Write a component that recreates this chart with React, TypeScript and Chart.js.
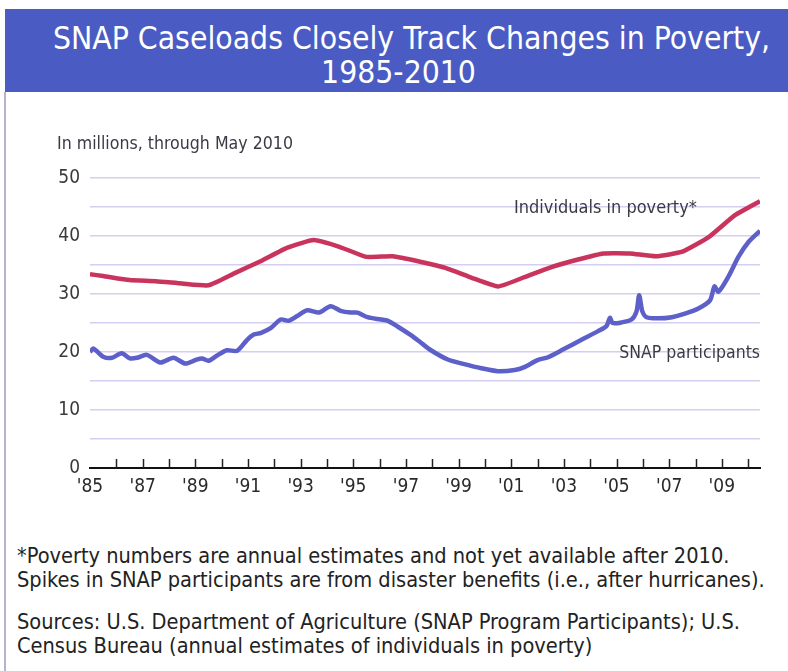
import React, { useEffect, useRef } from "react";
import { Chart, registerables } from "chart.js";

Chart.register(...registerables);

// ---------- data ----------
const povertyYears = [
  1985.0, 1985.5, 1986.5, 1987.5, 1988.5, 1989.5, 1990.5, 1991.5, 1992.5, 1993.5,
  1994.5, 1995.5, 1996.5, 1997.5, 1998.5, 1999.5, 2000.5, 2001.5, 2002.5, 2003.5,
  2004.5, 2005.5, 2006.5, 2007.5, 2008.5, 2009.5, 2010.45,
];
const povertyValues = [
  33.4, 33.1, 32.4, 32.2, 31.8, 31.5, 33.6, 35.7, 38.0, 39.3,
  38.1, 36.4, 36.5, 35.6, 34.5, 32.8, 31.3, 32.9, 34.6, 35.9,
  37.0, 37.0, 36.5, 37.3, 39.8, 43.6, 46.0,
];

const snapYears = [
  1985.0, 1985.13, 1985.5, 1985.83, 1986.2, 1986.52, 1986.78, 1987.16, 1987.67, 1988.17,
  1988.62, 1989.0, 1989.25, 1989.5, 1989.83, 1990.2, 1990.59, 1990.97, 1991.22, 1991.5,
  1991.86, 1992.24, 1992.55, 1992.87, 1993.25, 1993.7, 1994.14, 1994.52, 1994.9, 1995.16,
  1995.54, 1996.05, 1996.3, 1996.68, 1997.19, 1997.57, 1997.95, 1998.59, 1999.22, 1999.86,
  2000.49, 2001.13, 2001.5, 2002.0, 2002.4, 2003.0, 2003.67, 2004.3, 2004.62, 2004.75,
  2004.85, 2005.19, 2005.57, 2005.76, 2005.86, 2005.98, 2006.14, 2006.59, 2007.1, 2007.6,
  2008.11, 2008.55, 2008.72, 2008.87, 2009.25, 2009.63, 2010.02, 2010.45,
];
const snapValues = [
  20.0, 20.6, 19.2, 19.0, 19.8, 18.9, 19.0, 19.5, 18.2, 19.0,
  18.0, 18.6, 18.9, 18.5, 19.4, 20.3, 20.2, 22.1, 23.0, 23.3,
  24.1, 25.6, 25.4, 26.2, 27.2, 26.8, 27.9, 27.1, 26.8, 26.8,
  26.0, 25.6, 25.4, 24.4, 22.9, 21.6, 20.3, 18.7, 17.9, 17.2,
  16.7, 16.9, 17.4, 18.6, 19.1, 20.5, 22.1, 23.6, 24.5, 25.9,
  25.0, 25.1, 25.6, 27.0, 29.8, 27.0, 26.0, 25.8, 26.0, 26.6,
  27.5, 28.9, 31.3, 30.4, 33.0, 36.4, 39.0, 40.9,
];

const xLabelYears = [1985, 1987, 1989, 1991, 1993, 1995, 1997, 1999, 2001, 2003, 2005, 2007, 2009];
const xTickLabels = ["'85", "'87", "'89", "'91", "'93", "'95", "'97", "'99", "'01", "'03", "'05", "'07", "'09"];
const xMinorTickYears = [
  1986, 1987, 1988, 1989, 1990, 1991, 1992, 1993, 1994, 1995, 1996, 1997, 1998,
  1999, 2000, 2001, 2002, 2003, 2004, 2005, 2006, 2007, 2008, 2009, 2010,
];
const yTickValues = [0, 10, 20, 30, 40, 50];

const seriesNames = ["Individuals in poverty*", "SNAP participants"];

const titleLines = ["SNAP Caseloads Closely Track Changes in Poverty,", "1985-2010"];
const yAxisTitle = "In millions, through May 2010";
const footnoteLines = [
  "*Poverty numbers are annual estimates and not yet available after 2010.",
  "Spikes in SNAP participants are from disaster benefits (i.e., after hurricanes).",
];
const sourceLines = [
  "Sources: U.S. Department of Agriculture (SNAP Program Participants); U.S.",
  "Census Bureau (annual estimates of individuals in poverty)",
];

// ---------- styles ----------
const FONT = '"DejaVu Sans Condensed", "Liberation Sans Narrow", sans-serif';
const RED = "rgb(200, 52, 92)";
const BLUE = "rgb(92, 96, 200)";
const GRID = "rgb(214, 206, 240)";

const overlayPlugin = {
  id: "overlay",
  afterDraw(chart: any) {
    const { ctx, chartArea, scales } = chart;
    const x = scales.x;
    const y = scales.y;
    ctx.save();
    ctx.strokeStyle = "#222";
    ctx.lineWidth = 1.5;
    xMinorTickYears.forEach((yr) => {
      const px = Math.round(x.getPixelForValue(yr)) + 0.5;
      ctx.beginPath();
      ctx.moveTo(px, chartArea.bottom);
      ctx.lineTo(px, chartArea.bottom - 9);
      ctx.stroke();
    });
    ctx.fillStyle = "#3a3a44";
    ctx.textAlign = "right";
    ctx.textBaseline = "middle";
    ctx.font = `18px ${FONT}`;
    ctx.fillText(seriesNames[0], x.getPixelForValue(2008.05), y.getPixelForValue(44.8));
    ctx.font = `17.5px ${FONT}`;
    ctx.fillText(seriesNames[1], x.getPixelForValue(2010.45), y.getPixelForValue(19.8));
    ctx.restore();
  },
};

function SnapChart() {
  const ref = useRef<HTMLCanvasElement | null>(null);
  useEffect(() => {
    if (!ref.current) return;
    const chart = new Chart(ref.current, {
      type: "line",
      data: {
        datasets: [
          {
            label: seriesNames[0],
            data: povertyYears.map((yr, i) => ({ x: yr, y: povertyValues[i] })),
            borderColor: RED,
            borderWidth: 4.5,
            pointRadius: 0,
            tension: 0.15,
            fill: false,
          },
          {
            label: seriesNames[1],
            data: snapYears.map((yr, i) => ({ x: yr, y: snapValues[i] })),
            borderColor: BLUE,
            borderWidth: 4.5,
            pointRadius: 0,
            tension: 0.25,
            fill: false,
          },
        ],
      },
      options: {
        animation: false,
        responsive: false,
        maintainAspectRatio: false,
        layout: { padding: { top: 78, right: 28, left: 0, bottom: 0 } },
        plugins: { legend: { display: false }, tooltip: { enabled: false } },
        scales: {
          x: {
            type: "linear",
            min: 1985,
            max: 2010.45,
            afterBuildTicks: (scale: any) => {
              scale.ticks = xLabelYears.map((v) => ({ value: v }));
            },
            afterFit: (scale: any) => {
              scale.height = 52;
            },
            ticks: {
              autoSkip: false,
              maxRotation: 0,
              padding: 8,
              color: "#2a2a2a",
              font: { family: FONT, size: 19 },
              callback: (v: any) => {
                const i = xLabelYears.indexOf(Number(v));
                return i >= 0 ? xTickLabels[i] : "";
              },
            },
            grid: { display: false, drawTicks: false },
            border: { display: true, color: "#111", width: 2 },
          },
          y: {
            min: 0,
            max: 50,
            afterFit: (scale: any) => {
              scale.width = 90;
            },
            ticks: {
              stepSize: 5,
              padding: 10,
              color: "#3a3a3a",
              font: { family: FONT, size: 19 },
              callback: (v: any) => (yTickValues.includes(Number(v)) ? String(v) : ""),
            },
            grid: { color: GRID, lineWidth: 1.5, drawTicks: false },
            border: { display: false },
          },
        },
      },
      plugins: [overlayPlugin],
    } as any);
    return () => chart.destroy();
  }, []);
  return <canvas ref={ref} width={788} height={420} style={{ width: 788, height: 420, display: "block" }} />;
}

export default function App() {
  return (
    <div
      style={{
        position: "absolute",
        left: 0,
        top: 0,
        width: 788,
        height: 671,
        background: "#fff",
        overflow: "hidden",
        fontFamily: FONT,
      }}
    >
      <div
        style={{
          position: "absolute",
          left: 5,
          top: 9,
          width: 783,
          height: 83,
          background: "rgb(74, 92, 196)",
          color: "#fff",
          textAlign: "center",
          fontSize: 31.6,
          lineHeight: "34px",
          paddingTop: 12,
          paddingLeft: 30,
          boxSizing: "border-box",
        }}
      >
        <div>{titleLines[0]}</div>
        <div style={{ marginRight: 26 }}>{titleLines[1]}</div>
      </div>
      <div style={{ position: "absolute", left: 4, top: 92, width: 2, height: 579, background: "rgb(180,180,206)" }} />
      <div style={{ position: "absolute", left: 0, top: 100 }}>
        <SnapChart />
      </div>
      <div style={{ position: "absolute", left: 57, top: 132, fontSize: 17.6, lineHeight: "22px", color: "#3a3a44" }}>
        {yAxisTitle}
      </div>
      <div style={{ position: "absolute", left: 17, top: 544, fontSize: 21.6, lineHeight: "24px", color: "#222" }}>
        {footnoteLines.map((t) => (
          <div key={t}>{t}</div>
        ))}
      </div>
      <div style={{ position: "absolute", left: 17, top: 610, fontSize: 21.6, lineHeight: "24px", color: "#222" }}>
        {sourceLines.map((t) => (
          <div key={t}>{t}</div>
        ))}
      </div>
    </div>
  );
}
